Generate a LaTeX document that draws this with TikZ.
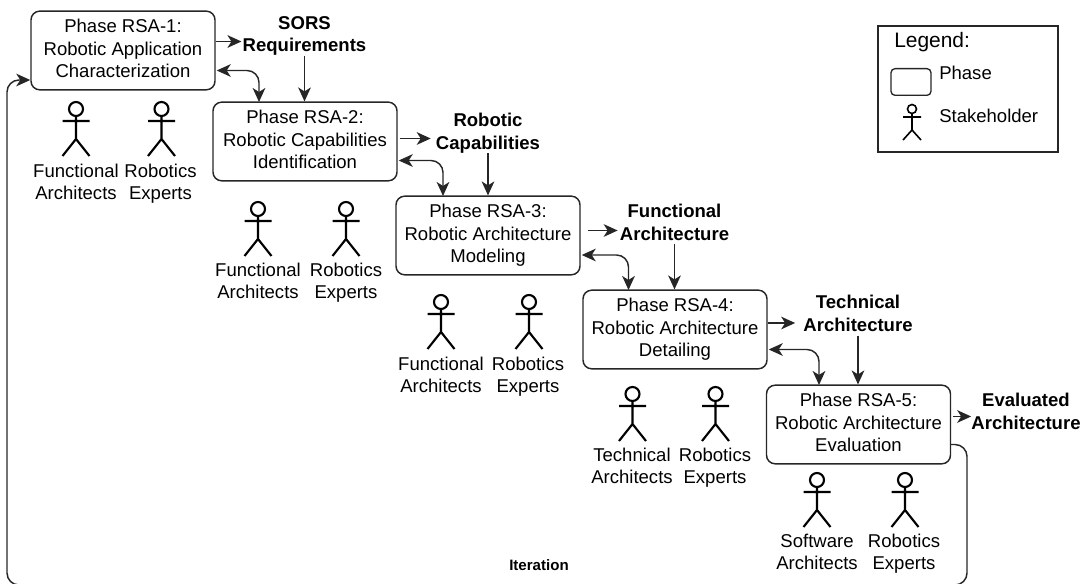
\documentclass[tikz,border=0pt]{standalone}
\usepackage{fontspec}
\setmainfont{Liberation Sans}
\usetikzlibrary{arrows.meta,calc}
\tikzset{
  x=0.75pt,y=-0.75pt,
  phase/.style={draw=black!85,line width=1.1pt,rounded corners=6.5pt,minimum width=138pt,minimum height=59pt,inner sep=0pt,align=center,font=\fontsize{13.9}{16.9}\selectfont,execute at end node=\vphantom{p}},
  artifact/.style={align=center,inner sep=0pt,font=\fontsize{13.9}{17}\selectfont\bfseries,execute at end node=\vphantom{p}},
  who/.style={align=center,inner sep=0pt,font=\fontsize{13.9}{16.9}\selectfont,execute at end node=\vphantom{p}},
  flow/.style={draw=black!85,line width=1.1pt,-{Stealth[length=10.5pt,width=9.5pt,inset=3pt]}},
  both/.style={draw=black!85,line width=1.1pt,rounded corners=9pt,{Stealth[length=10.5pt,width=9.5pt,inset=3pt]}-{Stealth[length=10.5pt,width=9.5pt,inset=3pt]}},
  loopback/.style={draw=black!85,line width=1.1pt,rounded corners=9pt,-{Stealth[length=10.5pt,width=9.5pt,inset=3pt]}},
  actor/.pic={
    \draw[black,line width=1.6pt] (0,0) circle[radius=7];
    \draw[black,line width=1.6pt] (0,7) -- (0,30) (-13.5,12) -- (13.5,12) (-13.5,47) -- (0,30) -- (13.5,47);
  },
  smallactor/.pic={
    \draw[black,line width=1.2pt] (0,0) circle[radius=4.5];
    \draw[black,line width=1.2pt] (0,4.5) -- (0,21) (-9,8) -- (9,8) (-9,31) -- (0,21) -- (9,31);
  }
}
\begin{document}
\begin{tikzpicture}
\clip (0,0) rectangle (1082,584);
% phases
\node[phase] (r1) at (123,50.5) {Phase RSA-1:\\Robotic Application\\Characterization};
\node[phase] (r2) at (305,141.5) {Phase RSA-2:\\Robotic Capabilities\\Identification};
\node[phase] (r3) at (488,235.5) {Phase RSA-3:\\Robotic Architecture\\Modeling};
\node[phase] (r4) at (675,329.5) {Phase RSA-4:\\Robotic Architecture\\Detailing};
\node[phase] (r5) at (858.5,424.5) {Phase RSA-5:\\Robotic Architecture\\Evaluation};
% artifacts
\node[artifact] (a1) at (304.5,36) {SORS\\Requirements};
\node[artifact] (a2) at (488,133) {Robotic\\Capabilities};
\node[artifact] (a3) at (674.5,224) {Functional\\Architecture};
\node[artifact] (a4) at (858,315.5) {Technical\\Architecture};
\node[artifact] (a5) at (1026,413.5) {Evaluated\\Architecture};
\node[font=\fontsize{11.3}{13}\selectfont\bfseries,inner sep=0pt] (it) at (539,565) {Iteration};
% stakeholders
\pic at (76,109) {actor};
\pic at (161.5,109) {actor};
\pic at (258,209) {actor};
\pic at (346,209) {actor};
\pic at (441,302) {actor};
\pic at (529,302) {actor};
\pic at (632.5,394) {actor};
\pic at (715.5,394) {actor};
\pic at (817,480) {actor};
\pic at (905,480) {actor};
\node[who] (s1) at (76,183.5) {Functional\\Architects};
\node[who] (s2) at (160.5,183.5) {Robotics\\Experts};
\node[who] (s3) at (258,282.5) {Functional\\Architects};
\node[who] (s4) at (346,282.5) {Robotics\\Experts};
\node[who] (s5) at (441,376.5) {Functional\\Architects};
\node[who] (s6) at (528,376.5) {Robotics\\Experts};
\node[who] (s7) at (632,467.5) {Technical\\Architects};
\node[who] (s8) at (715,467.5) {Robotics\\Experts};
\node[who] (s9) at (817,553.5) {Software\\Architects};
\node[who] (s10) at (904,553.5) {Robotics\\Experts};
% outputs
\draw[flow] ($(r1.east)+(0,-9)$) -- ($(a1.west)+(-1,5.5)$);
\draw[flow] ($(r2.east)+(2,-3)$) -- ($(a2.west)+(-5,5.5)$);
\draw[flow] ($(r3.east)+(7,-5)$) -- ($(a3.west)+(-2,6.5)$);
\draw[flow] ($(r4.east)+(0,-6.5)$) -- ($(a4.west)+(-8,7.5)$);
\draw[flow] ($(r5.east)+(2,-8)$) -- ($(a5.west)+(0,3)$);
% inputs
\draw[flow] (a1.south) -- (a1.south |- r2.north);
\draw[flow] (a2.south) -- (a2.south |- r3.north);
\draw[flow] (a3.south) -- (a3.south |- r4.north);
\draw[flow] (a4.south) -- (a4.south |- r5.north);
% feedback pairs
\draw[both] ($(r1.east)+(1,20)$) -- (259,70.5) -- (259,102);
\draw[both] ($(r2.east)+(1,19)$) -- (443,160.5) -- (443,196);
\draw[both] ($(r3.east)+(1,19.5)$) -- (628.5,255) -- (628.5,290);
\draw[both] ($(r4.east)+(1,20)$) -- (819,349.5) -- (819,385);
% iteration
\draw[loopback] ($(r5.east)+(0,20)$) -- (967,444.5) -- (967,585) -- (7,585) -- (7,80) -- (r1.west |- 0,80);
% legend
\node[draw=black!85,line width=1.1pt,minimum width=135pt,minimum height=94.5pt,inner sep=0pt] (lg) at (968,89) {};
\node[anchor=west,inner sep=0pt,font=\fontsize{15.7}{18}\selectfont] (lgt) at (894,42) {Legend:};
\node[draw=black!85,line width=1pt,rounded corners=3pt,minimum width=30pt,minimum height=20pt,inner sep=0pt] (lgp) at (911,82) {};
\node[anchor=west,inner sep=0pt,font=\fontsize{13.9}{16}\selectfont] (lgpt) at (939,73) {Phase};
\pic at (912,109) {smallactor};
\node[anchor=west,inner sep=0pt,font=\fontsize{13.9}{16}\selectfont] (lgst) at (939,116) {Stakeholder};
\end{tikzpicture}
\end{document}
